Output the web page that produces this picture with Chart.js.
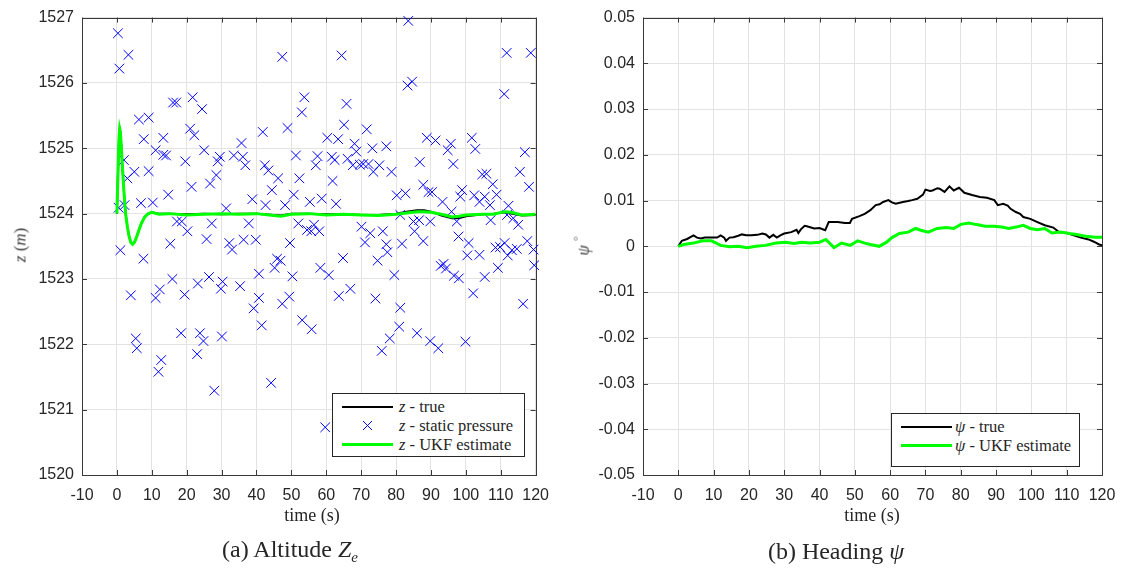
<!DOCTYPE html>
<html><head><meta charset="utf-8">
<script src="https://cdn.jsdelivr.net/npm/chart.js@4.4.1/dist/chart.umd.min.js"></script>
<style>
html,body{margin:0;padding:0;background:#fff;}
body{width:1127px;height:578px;position:relative;overflow:hidden;font-family:'Liberation Serif','Times New Roman',serif;color:#262626;}
canvas{position:absolute;top:0;}
.lbl{position:absolute;transform:translate(-50%,-50%);white-space:nowrap;line-height:1;}
.ylbl{position:absolute;transform:translate(-50%,-50%) rotate(-90deg);white-space:nowrap;line-height:1;color:#404040;}
.legend{position:absolute;background:#fff;border:1px solid #262626;box-sizing:border-box;}
.lrow{position:absolute;left:0;right:0;height:19px;}
.ltxt{position:absolute;top:50%;transform:translateY(-50%);font-size:16.5px;white-space:nowrap;line-height:1;color:#262626;}
</style></head>
<body>
<canvas id="c1" width="560" height="530" style="left:0px"></canvas>
<canvas id="c2" width="567" height="530" style="left:560px"></canvas>

<div class="ylbl" style="left:20px;top:245px;font-size:17px;"><i>z</i> (<i>m</i>)</div>
<div class="ylbl" style="left:582px;top:246px;font-size:17px;"><i>ψ</i> <sup style="font-size:11px">°</sup></div>
<div class="lbl" style="left:312px;top:515px;font-size:18px;">time (s)</div>
<div class="lbl" style="left:872px;top:515px;font-size:18px;">time (s)</div>
<div class="lbl" style="left:290px;top:551px;font-size:24px;">(a) Altitude <i>Z<sub style="font-size:15px">e</sub></i></div>
<div class="lbl" style="left:836px;top:551px;font-size:24px;">(b) Heading <i>ψ</i></div>

<script>
// ---- data ----
const xTickVals = [-10, 0, 10, 20, 30, 40, 50, 60, 70, 80, 90, 100, 110, 120];
const altTickVals = [1520, 1521, 1522, 1523, 1524, 1525, 1526, 1527];
const headTickVals = [-0.05, -0.04, -0.03, -0.02, -0.01, 0, 0.01, 0.02, 0.03, 0.04, 0.05];

const altTime = [0, 0.3, 0.6, 0.8, 1.0, 1.3, 1.6, 2.0, 2.5, 3.0,
  3.5, 4.0, 4.5, 5.0, 5.5, 6.0, 7, 8, 9, 10,
  12, 15, 20, 25, 30, 35, 40, 45, 47, 50,
  55, 60, 65, 70, 75, 80, 83, 86, 88, 90,
  93, 96, 98, 100, 105, 108, 111, 113, 116, 120];
const altEst = [1524.0, 1524.6, 1525.15, 1525.3, 1525.25, 1525.0, 1524.7, 1524.35, 1524.0, 1523.8,
  1523.65, 1523.56, 1523.53, 1523.56, 1523.62, 1523.7, 1523.85, 1523.95, 1524.0, 1524.02,
  1523.99, 1524.0, 1523.98, 1523.99, 1524.0, 1523.99, 1524.0, 1523.97, 1523.96, 1523.99,
  1524.0, 1523.98, 1523.99, 1523.98, 1523.97, 1523.99, 1524.01, 1524.03, 1524.03, 1524.02,
  1523.99, 1523.95, 1523.96, 1523.98, 1523.99, 1523.99, 1524.03, 1524.02, 1523.98, 1523.99];
const altTrue = [1524.0, 1524.6, 1525.15, 1525.3, 1525.25, 1525.0, 1524.7, 1524.35, 1524.0, 1523.8,
  1523.65, 1523.56, 1523.53, 1523.56, 1523.62, 1523.7, 1523.85, 1523.95, 1524.0, 1524.02,
  1524.0, 1524.0, 1523.99, 1524.0, 1523.99, 1524.0, 1524.0, 1523.98, 1523.97, 1524.0,
  1524.0, 1523.99, 1523.99, 1523.98, 1523.98, 1524.0, 1524.03, 1524.05, 1524.05, 1524.03,
  1523.97, 1523.93, 1523.93, 1523.96, 1523.99, 1524.0, 1524.02, 1524.0, 1523.97, 1523.98];

const pressTime = [0.3, 0.7, 0.5, 1.0, 2.0, 2.2, 3.0, 3.3, 4.0, 5.0, 5.4, 5.7, 6.3, 6.9, 7.6, 7.7, 9.1, 9.1, 10.3, 11.1,
  11.1, 11.9, 12.3, 12.7, 13.3, 13.3, 14.1, 14.7, 15.3, 15.9, 16.1, 17.0, 17.2, 18.4, 18.6, 19.4, 19.6, 20.2, 21.0, 21.4,
  21.7, 22.2, 23.0, 23.2, 23.8, 24.4, 24.8, 25.0, 25.7, 26.4, 26.7, 27.2, 27.9, 28.5, 28.9, 29.5, 29.8, 30.1, 30.3, 31.3,
  32.2, 33.0, 33.5, 35.3, 35.7, 36.1, 36.3, 36.8, 37.8, 38.8, 39.2, 39.8, 40.7, 40.7, 41.5, 41.8, 42.4, 42.6, 43.4, 44.2,
  44.4, 45.2, 45.9, 46.2, 46.9, 47.4, 47.4, 48.2, 48.9, 49.4, 49.6, 50.3, 50.7, 51.3, 52.0, 52.3, 53.0, 53.1, 53.7, 54.5,
  55.3, 55.7, 55.8, 56.5, 57.0, 57.5, 58.0, 58.3, 58.7, 59.7, 60.3, 60.7, 61.6, 61.8, 62.4, 62.8, 63.4, 63.6, 64.4, 64.8,
  65.1, 65.8, 66.1, 66.9, 67.6, 68.1, 68.6, 69.6, 70.1, 70.6, 71.1, 71.6, 72.1, 72.6, 73.2, 73.5, 74.1, 74.7, 75.2, 75.9,
  76.2, 77.2, 77.2, 77.5, 78.2, 78.7, 79.5, 80.2, 80.9, 81.2, 81.2, 81.7, 82.7, 83.3, 83.5, 84.6, 85.0, 85.3, 86.0, 86.6,
  86.8, 87.8, 87.8, 88.8, 89.3, 89.8, 89.8, 90.3, 91.3, 92.1, 92.8, 93.3, 93.6, 94.3, 94.8, 95.7, 95.9, 96.4, 96.6, 97.4,
  97.9, 98.0, 98.4, 98.9, 99.9, 100.4, 100.8, 101.7, 102.1, 102.4, 102.7, 103.9, 103.9, 104.7, 105.4, 105.4, 105.9, 106.9, 107.1, 107.7,
  108.5, 108.8, 109.2, 109.8, 111.0, 111.1, 111.7, 111.8, 112.0, 112.2, 113.2, 113.6, 115.0, 114.6, 115.5, 116.9, 116.4, 117.6, 118.1, 118.6,
  119.4, 119.6];
const pressAlt = [1526.76, 1526.22, 1524.09, 1523.44, 1524.82, 1524.13, 1524.54, 1526.43, 1522.75, 1524.64, 1522.09, 1521.94, 1525.44, 1524.16, 1523.31, 1525.14, 1525.47, 1524.65, 1524.17, 1524.97,
  1522.71, 1521.58, 1522.84, 1521.76, 1525.16, 1524.90, 1524.89, 1524.29, 1523.54, 1523.00, 1525.70, 1525.70, 1523.88, 1522.17, 1523.88, 1522.76, 1524.80, 1523.73, 1525.30, 1524.41,
  1525.78, 1525.20, 1521.85, 1522.93, 1522.17, 1525.60, 1522.05, 1524.97, 1523.61, 1523.03, 1524.46, 1523.85, 1521.29, 1524.59, 1524.80, 1524.87, 1522.85, 1522.12, 1522.96, 1524.08,
  1523.55, 1523.45, 1524.89, 1522.89, 1525.08, 1524.87, 1523.60, 1524.74, 1523.85, 1524.22, 1522.55, 1523.60, 1523.08, 1522.71, 1522.29, 1525.25, 1524.74, 1524.13, 1524.66, 1521.41,
  1524.36, 1523.17, 1523.31, 1524.54, 1523.28, 1526.40, 1522.62, 1524.13, 1525.31, 1522.73, 1523.55, 1523.04, 1524.29, 1524.89, 1523.85, 1524.54, 1525.55, 1522.37, 1525.78, 1523.75,
  1524.18, 1523.73, 1522.23, 1523.83, 1524.74, 1524.88, 1523.73, 1523.17, 1524.23, 1520.73, 1525.16, 1523.06, 1524.87, 1524.50, 1524.82, 1524.15, 1525.14, 1522.74, 1526.42, 1523.32,
  1525.36, 1525.68, 1524.84, 1522.85, 1524.74, 1525.07, 1524.95, 1524.75, 1523.80, 1524.76, 1523.56, 1525.29, 1524.76, 1523.70, 1525.00, 1524.64, 1522.70, 1523.28, 1524.74, 1521.90,
  1523.73, 1525.03, 1523.53, 1523.41, 1522.09, 1524.64, 1523.06, 1524.28, 1522.27, 1523.98, 1522.56, 1523.54, 1524.31, 1525.96, 1526.95, 1526.02, 1523.88, 1523.73, 1522.17, 1523.90,
  1524.79, 1524.44, 1523.58, 1525.16, 1524.33, 1523.88, 1522.05, 1524.33, 1525.12, 1521.94, 1523.20, 1524.18, 1523.23, 1523.16, 1524.97, 1525.07, 1524.03, 1524.76, 1523.05, 1523.88,
  1523.65, 1523.01, 1524.26, 1524.36, 1522.04, 1523.36, 1523.55, 1525.16, 1522.78, 1524.28, 1524.99, 1524.18, 1523.37, 1524.60, 1524.26, 1523.03, 1524.61, 1524.13, 1523.90, 1524.45,
  1523.48, 1524.29, 1523.17, 1523.49, 1525.83, 1523.55, 1526.46, 1523.98, 1523.36, 1524.12, 1523.44, 1523.93, 1523.83, 1523.46, 1524.64, 1524.94, 1522.62, 1523.58, 1524.41, 1526.46,
  1523.45, 1523.21];

const headTrueTime = [0, 1, 2.5, 4.3, 5.3, 6.4, 7.5, 9.4, 11, 12, 13, 13.5, 14.5, 15.6, 17, 18, 19.2, 20.7, 22.4, 23.8, 24.8, 25.8, 26.9, 27.9, 28.9, 30, 32, 33.5, 34, 34.7, 35.8, 36.4, 38.5, 40, 41.6, 42.6, 43.1,
  45.1, 47.2, 48.6, 49.2, 51.3, 52.8, 54.4, 55.9, 57, 58, 59.5, 60.5, 61.6, 63.6, 65.1, 66.2, 67.7, 69.3, 70, 71.3, 72, 73.4, 74, 75.4, 76.8, 78, 79.5,
  80.5, 81, 83.2, 85.4, 87.4, 89.5, 90.5, 92, 93.3, 94.1, 95.6, 96.8, 97.7, 99.7, 101.7, 103.8, 106.2, 107.8, 110, 112, 114, 116.2, 117.7, 119.2, 120];
const headTrue = [0, 0.0012, 0.0016, 0.0024, 0.0019, 0.0017, 0.0019, 0.0019, 0.0019, 0.0024, 0.0019, 0.0012, 0.0019, 0.002, 0.0023, 0.0026, 0.0024, 0.0024, 0.0025, 0.0028, 0.0026, 0.0019, 0.0025, 0.0019, 0.0024, 0.0028, 0.0031, 0.0036, 0.0029, 0.0037, 0.0045, 0.0044, 0.0039, 0.0040, 0.0035, 0.0053, 0.0053,
  0.0053, 0.0051, 0.0051, 0.006, 0.0066, 0.0071, 0.0079, 0.009, 0.0092, 0.0097, 0.0101, 0.0096, 0.0093, 0.0097, 0.0099, 0.0101, 0.0104, 0.0113, 0.0124, 0.0121, 0.0122, 0.0127, 0.0126, 0.0119, 0.0131, 0.0122, 0.0128,
  0.0121, 0.0117, 0.0112, 0.0108, 0.0106, 0.0101, 0.009, 0.0093, 0.0089, 0.0082, 0.0075, 0.0071, 0.0064, 0.006, 0.0053, 0.0046, 0.0041, 0.0031, 0.0029, 0.0024, 0.0019, 0.0015, 0.001, 0.0004, 0.0002];
const headEstTime = [0, 1.5, 4.3, 6.9, 9.4, 12, 14.5, 17, 19.5, 22, 24.6, 27.7, 30.3, 32.8, 34.9, 37.4, 40, 41.8, 44.1, 46.2,
  48.7, 50.8, 52.8, 54.4, 56.9, 59, 60.5, 62.6, 65.1, 67.2, 68.7, 70.8, 73.3, 75.9, 78, 80, 82.3, 84.1, 86.9, 89.5,
  91.5, 93.6, 95.6, 97.7, 99.7, 101.7, 103.8, 105.8, 108.3, 110.8, 112.8, 115.4, 118, 120];
const headEst = [0, 0.0004, 0.0007, 0.0012, 0.0012, 0.0002, -0.0001, 0, -0.0003, 0, 0.0002, 0.0007, 0.0009, 0.0006, 0.0009, 0.0007, 0.0009, 0.0015, -0.0003, 0.0007,
  0.0002, 0.0012, 0.0007, 0.0004, 0, 0.0009, 0.0019, 0.0028, 0.0031, 0.0039, 0.0035, 0.0031, 0.0039, 0.0041, 0.0039, 0.0048, 0.0051, 0.0048, 0.0044, 0.0044,
  0.0042, 0.0039, 0.0042, 0.0046, 0.0039, 0.0036, 0.0039, 0.0029, 0.0031, 0.0028, 0.0026, 0.0022, 0.002, 0.002];

// ---- helpers ----
const pts = (xs, ys) => xs.map((x, i) => ({x: x, y: ys[i]}));
const TICK_FONT = {family: "'Liberation Sans', Arial, sans-serif", size: 16};
const TEXT = '#262626';
const GRID = '#e3e3e3';

const boxTicks = {
  id: 'boxTicks',
  beforeDatasetsDraw(chart) {
    const {ctx, chartArea: a, scales: {x, y}} = chart;
    ctx.save();
    ctx.strokeStyle = '#3a3a3a';
    ctx.lineWidth = 1;
    ctx.beginPath();
    x.ticks.forEach(t => {
      const px = Math.round(x.getPixelForValue(t.value)) + 0.5;
      ctx.moveTo(px, a.bottom); ctx.lineTo(px, a.bottom - 5);
      ctx.moveTo(px, a.top); ctx.lineTo(px, a.top + 5);
    });
    y.ticks.forEach(t => {
      const py = Math.round(y.getPixelForValue(t.value)) + 0.5;
      ctx.moveTo(a.left, py); ctx.lineTo(a.left + 5, py);
      ctx.moveTo(a.right, py); ctx.lineTo(a.right - 5, py);
    });
    ctx.stroke();
    const l = Math.round(a.left) + 0.5, t = Math.round(a.top) + 0.5;
    ctx.strokeRect(l, t, Math.round(a.right) - Math.round(a.left), Math.round(a.bottom) - Math.round(a.top));
    ctx.restore();
  }
};

function makeChart(id, datasets, yMin, yMax, yVals, yFmt, yWidth, pad) {
  return new Chart(document.getElementById(id), {
    type: 'scatter',
    data: {datasets: datasets},
    plugins: [boxTicks],
    options: {
      responsive: false, animation: false, devicePixelRatio: 1,
      layout: {padding: pad},
      plugins: {legend: {display: false}, tooltip: {enabled: false}},
      scales: {
        x: {
          type: 'linear', min: -10, max: 120,
          afterBuildTicks: s => { s.ticks = xTickVals.map(v => ({value: v})); },
          afterFit: s => { s.height = 55; },
          grid: {color: GRID, lineWidth: 1, drawTicks: false},
          border: {display: false},
          ticks: {font: TICK_FONT, color: TEXT, padding: 11, maxRotation: 0, autoSkip: false, callback: v => String(v)}
        },
        y: {
          type: 'linear', min: yMin, max: yMax,
          afterBuildTicks: s => { s.ticks = yVals.map(v => ({value: v})); },
          afterFit: s => { s.width = yWidth; },
          grid: {color: GRID, lineWidth: 1, drawTicks: false},
          border: {display: false},
          ticks: {font: TICK_FONT, color: TEXT, padding: 8, autoSkip: false, callback: yFmt}
        }
      }
    }
  });
}

const GREEN = '#00ff00';
const c1 = makeChart('c1', [
  {label: 'z - UKF estimate', data: pts(altTime, altEst), showLine: true, borderColor: GREEN, backgroundColor: GREEN, borderWidth: 3, pointRadius: 0, tension: 0, order: 1},
  {label: 'z - static pressure', data: pts(pressTime, pressAlt), showLine: false, pointStyle: 'crossRot', pointRadius: 6.8, borderColor: '#0000ff', borderWidth: 1, clip: false, order: 2},
  {label: 'z - true', data: pts(altTime, altTrue), showLine: true, borderColor: '#000000', borderWidth: 2, pointRadius: 0, tension: 0, order: 3}
], 1520, 1527, altTickVals, v => String(v), 82, {left: 0, top: 15, right: 18, bottom: 0});

const c2 = makeChart('c2', [
  {label: 'ψ - UKF estimate', data: pts(headEstTime, headEst), showLine: true, borderColor: GREEN, borderWidth: 3, pointRadius: 0, tension: 0, order: 1},
  {label: 'ψ - true', data: pts(headTrueTime, headTrue), showLine: true, borderColor: '#000000', borderWidth: 2, pointRadius: 0, tension: 0, order: 2}
], -0.05, 0.05, headTickVals, v => (Math.abs(v) < 1e-9 ? '0' : v.toFixed(2)), 83, {left: 0, top: 17, right: 25, bottom: 0});

// ---- legends built from the datasets ----
function legend(chart, order, box, sampleX, sampleW, textX) {
  const el = document.createElement('div');
  el.className = 'legend';
  Object.assign(el.style, {left: box.l + 'px', top: box.t + 'px', width: box.w + 'px', height: box.h + 'px'});
  order.forEach((di, k) => {
    const ds = chart.data.datasets[di];
    const row = document.createElement('div');
    row.className = 'lrow';
    row.style.top = (box.pad + k * 19) + 'px';
    if (ds.showLine) {
      const ln = document.createElement('div');
      Object.assign(ln.style, {position: 'absolute', left: sampleX + 'px', width: sampleW + 'px', top: (9.5 - ds.borderWidth / 2) + 'px', height: ds.borderWidth + 'px', background: ds.borderColor});
      row.appendChild(ln);
    } else {
      const ns = 'http://www.w3.org/2000/svg';
      const svg = document.createElementNS(ns, 'svg');
      svg.setAttribute('width', '11'); svg.setAttribute('height', '11');
      Object.assign(svg.style, {position: 'absolute', left: (sampleX + sampleW / 2 - 5.5) + 'px', top: '4px'});
      const p = document.createElementNS(ns, 'path');
      p.setAttribute('d', 'M1 1L10 10M10 1L1 10');
      p.setAttribute('stroke', ds.borderColor); p.setAttribute('stroke-width', '1');
      svg.appendChild(p);
      row.appendChild(svg);
    }
    const parts = ds.label.split(' - ');
    const tx = document.createElement('div');
    tx.className = 'ltxt';
    tx.style.left = textX + 'px';
    tx.innerHTML = '<i>' + parts[0] + '</i> - ' + parts[1];
    row.appendChild(tx);
    el.appendChild(row);
  });
  document.body.appendChild(el);
}
legend(c1, [2, 1, 0], {l: 332, t: 393, w: 193, h: 64, pad: 3}, 9, 51, 66);
legend(c2, [1, 0], {l: 891, t: 413, w: 189, h: 54, pad: 3}, 9, 51, 63);
</script>
</body></html>
